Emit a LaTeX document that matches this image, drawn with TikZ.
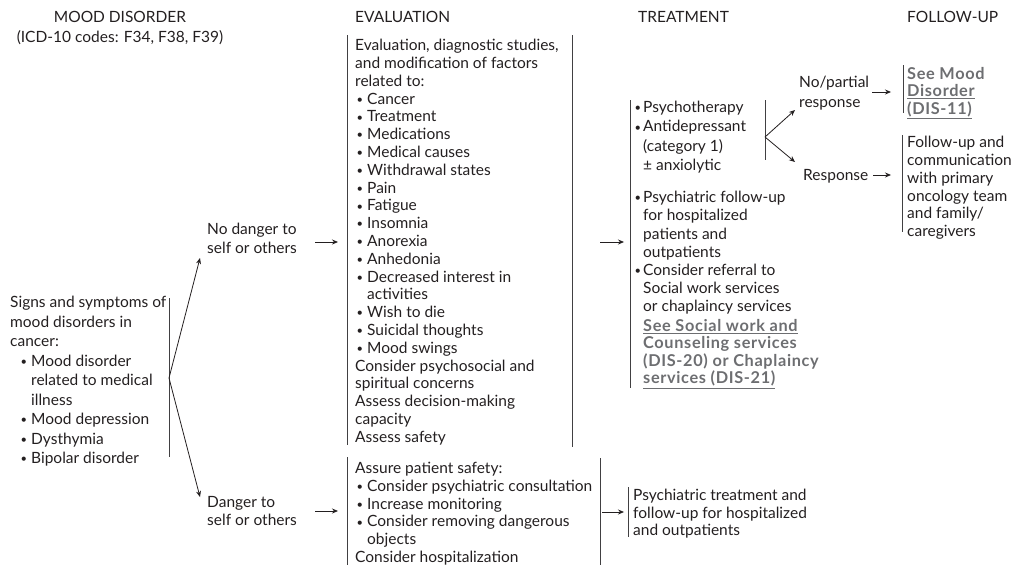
\documentclass[tikz,border=0pt]{standalone}
\usepackage{fontspec}
\setmainfont{Lato}
\usetikzlibrary{arrows.meta}
\definecolor{ink}{HTML}{231F20}
\definecolor{linkgray}{HTML}{6D6E71}
\definecolor{rulec}{HTML}{414042}
\newcommand\bdot{\hspace*{1.5pt}\raisebox{0.8pt}{\scalebox{0.72}{•}}}
\newcommand\bl{\makebox[12pt][l]{\bdot}}
\newcommand\ind{\hspace*{12pt}}
\newcommand\tbl{\makebox[10pt][l]{\bdot}}
\newcommand\tind{\hspace*{10pt}}
\newcommand\fsz[1]{\fontsize{15.5}{#1}\selectfont}
\newcommand\lsz[1]{\fontsize{16.3}{#1}\selectfont\bfseries\addfontfeatures{LetterSpace=4}}
\begin{document}
\begin{tikzpicture}[x=1pt,y=-1pt,
  txt/.style={anchor=north west, yshift=11pt, inner sep=0pt, align=left, text=ink, font=\fsz{17.8},
    execute at begin node={\rule{0pt}{11pt}}},
  hdr/.style={txt, font=\fsz{20}},
  lnk/.style={txt, text=linkgray, font=\lsz{17.5}},
  bar/.style={draw=rulec, line width=0.9pt},
  arr/.style={draw=ink, line width=0.8pt, -{Stealth[length=6pt,width=5pt]}}
]
\useasboundingbox (0,0) rectangle (1014,565);

% headers
\node[hdr, anchor=north, align=center] (hmood) at (120,22) {MOOD DISORDER\\(ICD-10 codes: F34, F38, F39)};
\node[hdr] (heval) at (355,22) {EVALUATION};
\node[hdr] (htreat) at (638,22) {TREATMENT};
\node[hdr] (hfu) at (907,22) {FOLLOW-UP};

% left block
\node[txt, font=\fsz{19.5}] (signs) at (10,307) {Signs and symptoms of\\mood disorders in\\cancer:\\
\hspace*{9pt}\bl Mood disorder\\\hspace*{9pt}\ind related to medical\\\hspace*{9pt}\ind illness\\
\hspace*{9pt}\bl Mood depression\\\hspace*{9pt}\bl Dysthymia\\\hspace*{9pt}\bl Bipolar disorder};
\coordinate (sT) at (169,298);
\coordinate (sB) at (169,457);
\draw[bar] (sT) -- (sB);
\coordinate (sbr) at (169,378);
\coordinate (ndtip) at (200,258);
\coordinate (dtip) at (200,497);
\draw[arr] (sbr) -- (ndtip);
\draw[arr] (sbr) -- (dtip);

\node[txt, font=\fsz{19}] (nodanger) at (207,234) {No danger to\\self or others};
\node[txt, font=\fsz{18}] (danger) at (207,507) {Danger to\\self or others};
\coordinate (nd1) at (315,242); \coordinate (nd2) at (338,242);
\draw[arr] (nd1) -- (nd2);
\coordinate (d1) at (315,511); \coordinate (d2) at (338,511);
\draw[arr] (d1) -- (d2);

% evaluation box
\coordinate (eL1) at (347,35); \coordinate (eL2) at (347,445);
\coordinate (eR1) at (572,35); \coordinate (eR2) at (572,447);
\draw[bar] (eL1) -- (eL2);
\draw[bar] (eR1) -- (eR2);
\node[txt] (eval) at (355,50) {Evaluation, diagnostic studies,\\and modification of factors\\related to:\\
\bl Cancer\\\bl Treatment\\\bl Medications\\\bl Medical causes\\\bl Withdrawal states\\\bl Pain\\\bl Fatigue\\\bl Insomnia\\\bl Anorexia\\\bl Anhedonia\\\bl Decreased interest in\\\ind activities\\\bl Wish to die\\\bl Suicidal thoughts\\\bl Mood swings\\
Consider psychosocial and\\spiritual concerns\\Assess decision-making\\capacity\\Assess safety};
\coordinate (et1) at (600,242); \coordinate (et2) at (624,242);
\draw[arr] (et1) -- (et2);

% danger evaluation box
\coordinate (dL1) at (347,457); \coordinate (dL2) at (347,565);
\coordinate (dR1) at (600,458); \coordinate (dR2) at (600,565);
\draw[bar] (dL1) -- (dL2);
\draw[bar] (dR1) -- (dR2);
\node[txt] (deval) at (355,473) {Assure patient safety:\\\bl Consider psychiatric consultation\\\bl Increase monitoring\\\bl Consider removing dangerous\\\ind objects\\Consider hospitalization};
\coordinate (dt1) at (602,512); \coordinate (dt2) at (624,512);
\draw[arr] (dt1) -- (dt2);
\coordinate (dtL1) at (628,487); \coordinate (dtL2) at (628,537);
\draw[bar] (dtL1) -- (dtL2);
\node[txt, font=\fsz{17.5}] (dtreat) at (633,500) {Psychiatric treatment and\\follow-up for hospitalized\\and outpatients};

% treatment column
\coordinate (tL1) at (630,100); \coordinate (tL2) at (630,388);
\draw[bar] (tL1) -- (tL2);
\node[txt, font=\fsz{19.3}] (treat1) at (633,112) {\tbl Psychotherapy\\\tbl Antidepressant\\\tind (category 1)\\\tind ± anxiolytic};
\node[txt, font=\fsz{18.2}] (treat2) at (633,202) {\tbl Psychiatric follow-up\\\tind for hospitalized\\\tind patients and\\\tind outpatients\\\tbl Consider referral to\\\tind Social work services\\\tind or chaplaincy services};
\node[lnk] (treatlink) at (643,330) {\underline{See Social work and}\\Counseling services\\(DIS-20) or Chaplaincy\\\underline{services (DIS-21)}};

% inner bracket
\coordinate (iT) at (765,100); \coordinate (iB) at (765,160);
\draw[bar] (iT) -- (iB);
\coordinate (ibr) at (765,137);
\coordinate (nptip) at (795,110);
\coordinate (rtip) at (795,162);
\draw[arr] (ibr) -- (nptip);
\draw[arr] (ibr) -- (rtip);

\node[txt, font=\fsz{20}] (nopartial) at (799,87) {No/partial\\response};
\coordinate (np1) at (872,92); \coordinate (np2) at (891,92);
\draw[arr] (np1) -- (np2);
\node[txt] (response) at (803,180) {Response};
\coordinate (r1) at (873,175); \coordinate (r2) at (891,175);
\draw[arr] (r1) -- (r2);

% follow-up
\coordinate (fL1) at (903,65); \coordinate (fL2) at (903,113);
\draw[bar] (fL1) -- (fL2);
\node[lnk] (seemood) at (907,78) {See Mood\\\underline{Disorder}\\\underline{(DIS-11)}};
\coordinate (gL1) at (902,135); \coordinate (gL2) at (902,232);
\draw[bar] (gL1) -- (gL2);
\node[txt] (fu) at (907,147) {Follow-up and\\communication\\with primary\\oncology team\\and family/\\caregivers};
\end{tikzpicture}
\end{document}
